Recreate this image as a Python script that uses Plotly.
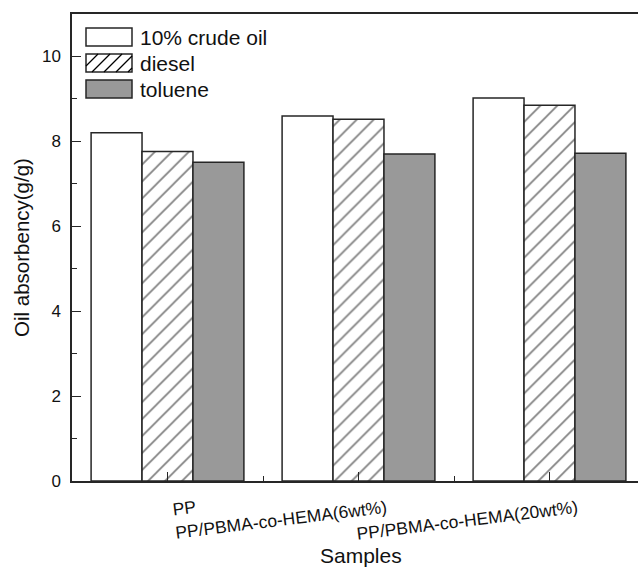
import plotly.graph_objects as go

samples = ["PP", "PP/PBMA-co-HEMA(6wt%)", "PP/PBMA-co-HEMA(20wt%)"]
crude_oil = [8.20, 8.60, 9.02]
diesel = [7.76, 8.52, 8.85]
toluene = [7.51, 7.70, 7.72]
series_names = ["10% crude oil", "diesel", "toluene"]

FONT = "Liberation Sans, Arial, sans-serif"
EDGE = "#262626"
GRAY = "#999999"
TXT = "#111111"

W, H = 638, 568
ML, MR, MT, MB = 72, 0, 14, 87
PW, PH = W - ML - MR, H - MT - MB

xpos = list(range(len(samples)))

fig = go.Figure()
fig.add_trace(go.Bar(x=xpos, y=crude_oil, name=series_names[0],
                     marker=dict(color="white", line=dict(color=EDGE, width=1.5))))
fig.add_trace(go.Bar(x=xpos, y=diesel, name=series_names[1],
                     marker=dict(color="white", line=dict(color=EDGE, width=1.5),
                                 pattern=dict(shape="/", size=12, solidity=0.14,
                                              fgcolor="#000000", bgcolor="white"))))
fig.add_trace(go.Bar(x=xpos, y=toluene, name=series_names[2],
                     marker=dict(color=GRAY, line=dict(color=EDGE, width=1.5))))

# custom legend (large swatches like the original)
def px2paper_x(px):
    return (px - ML) / PW

def px2paper_y(py):
    return 1 - (py - MT) / PH

shapes = []
annotations = []
box_x0, box_x1 = 86, 132
box_tops = [28, 54, 80]
box_h = 18
fills = ["white", "white", GRAY]
for i, (name, top) in enumerate(zip(series_names, box_tops)):
    shapes.append(dict(type="rect", xref="paper", yref="paper",
                       x0=px2paper_x(box_x0), x1=px2paper_x(box_x1),
                       y0=px2paper_y(top + box_h), y1=px2paper_y(top),
                       fillcolor=fills[i], line=dict(color=EDGE, width=1.5), layer="above"))
    if i == 1:
        step = 12
        s = box_x0 - box_h
        while s < box_x1:
            xa, ya = s, top + box_h
            xb, yb = s + box_h, top
            if xa < box_x0:
                ya = ya - (box_x0 - xa)
                xa = box_x0
            if xb > box_x1:
                yb = yb + (xb - box_x1)
                xb = box_x1
            if xb > xa:
                shapes.append(dict(type="line", xref="paper", yref="paper",
                                   x0=px2paper_x(xa), y0=px2paper_y(ya),
                                   x1=px2paper_x(xb), y1=px2paper_y(yb),
                                   line=dict(color="#000000", width=1.2), layer="above"))
            s += step
    annotations.append(dict(text=name, xref="paper", yref="paper",
                            x=px2paper_x(138), y=px2paper_y(top + box_h / 2),
                            xanchor="left", yanchor="middle", showarrow=False,
                            font=dict(family=FONT, size=21, color=TXT)))

# x-axis title placed explicitly
annotations.append(dict(text="Samples", xref="paper", yref="paper",
                        x=px2paper_x(361), y=px2paper_y(555),
                        xanchor="center", yanchor="middle", showarrow=False,
                        font=dict(family=FONT, size=21, color=TXT)))

fig.update_layout(
    width=W, height=H,
    margin=dict(l=ML, r=MR, t=MT, b=MB, pad=0, autoexpand=False),
    paper_bgcolor="white", plot_bgcolor="white",
    barmode="group", bargap=0.2, bargroupgap=0,
    showlegend=False,
    font=dict(family=FONT, color=TXT),
    shapes=shapes, annotations=annotations,
)

fig.update_xaxes(
    range=[-0.5, (W - ML) / 191 - 0.5],
    tickmode="array", tickvals=xpos, ticktext=samples,
    tickangle=-7, ticklabelshift=28, ticklabelstandoff=9,
    tickfont=dict(family=FONT, size=17.5, color=TXT),
    ticks="inside", ticklen=9, tickwidth=1.2, tickcolor=EDGE,
    minor=dict(tickvals=[0.5, 1.5], ticks="inside", ticklen=5, tickwidth=1.2, tickcolor=EDGE),
    showline=True, linecolor=EDGE, linewidth=1.5, mirror=True,
    showgrid=False, zeroline=False, layer="above traces", automargin=False,
)
fig.update_yaxes(
    range=[0, 11],
    tickmode="array", tickvals=[0, 2, 4, 6, 8, 10],
    tickfont=dict(family=FONT, size=17, color=TXT),
    ticks="inside", ticklen=9, tickwidth=1.2, tickcolor=EDGE,
    minor=dict(tickvals=[1, 3, 5, 7, 9], ticks="inside", ticklen=5, tickwidth=1.2, tickcolor=EDGE),
    showline=True, linecolor=EDGE, linewidth=1.5, ticklabelstandoff=6,
    showgrid=False, zeroline=False, layer="above traces", automargin=False,
    title=dict(text="Oil absorbency(g/g)", font=dict(family=FONT, size=20.5, color=TXT), standoff=7),
)

fig.write_html("out.html")
